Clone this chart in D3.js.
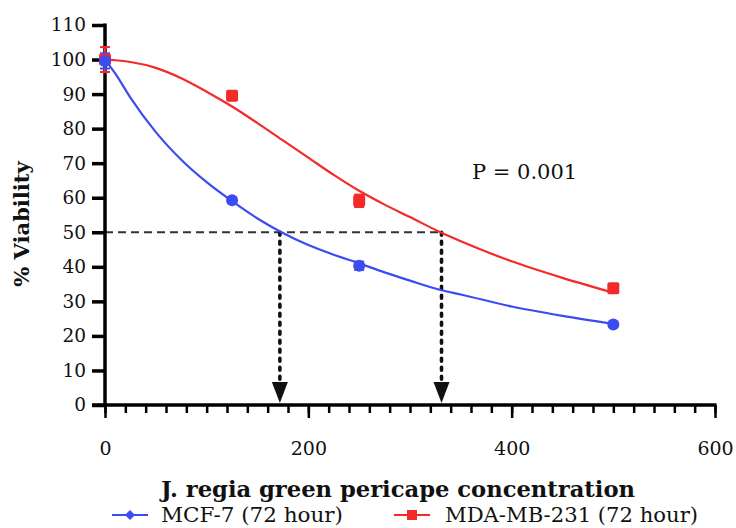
<!DOCTYPE html>
<html><head><meta charset="utf-8">
<script src="https://cdn.jsdelivr.net/npm/d3@7"></script>
<style>body{margin:0;background:#fff}svg{display:block}</style>
</head><body>
<script>
// ---- data ----
const concentrations = [0, 125, 250, 500];
const mcf7Values = [99.6, 59.3, 40.3, 23.3];
const mcf7Errors = [2.2, 0.8, 1.2, 0.6];
const mdaValues = [100, 89.5, 59.1, 33.8];
const mdaErrors = [3.6, 1.0, 1.8, 0.8];
// fitted curves
const fitX = [0, 10, 25, 50, 75, 100, 125, 150, 175, 200, 225, 250, 275, 300, 330, 350, 400, 450, 500];
const mcf7Fit = [100, 96, 89, 79, 71, 64.5, 59, 54, 49.8, 46.3, 43.5, 41, 38.4, 36, 33.3, 32, 28.5, 25.8, 23.5];
const mdaFit = [100, 99.8, 99.3, 97.6, 94.6, 90.7, 86.4, 81.6, 76.6, 71.6, 66.6, 62, 58, 54.4, 50, 47.4, 41.6, 36.8, 32.5];
const ic50 = [172, 331];
const xTicks = [0, 200, 400, 600];
const yTicks = [0, 10, 20, 30, 40, 50, 60, 70, 80, 90, 100, 110];
const seriesNames = ["MCF-7 (72 hour)", "MDA-MB-231 (72 hour)"];
const colors = ["#3b4cf0", "#f42a2a"];

const W = 736, H = 528;
const svg = d3.select("body").append("svg").attr("width", W).attr("height", H)
  .style("font-family", "'DejaVu Serif', serif");

const x = d3.scaleLinear().domain([0, 600]).range([105, 715]);
const y = d3.scaleLinear().domain([0, 110]).range([405, 25]);

// dashed 50% line
svg.append("line").attr("x1", x(0)).attr("x2", x(ic50[1])).attr("y1", y(50)).attr("y2", y(50))
  .attr("stroke", "#333").attr("stroke-width", 2.2).attr("stroke-dasharray", "8,5");

// vertical dotted arrows
ic50.forEach(v => {
  svg.append("line").attr("x1", x(v)).attr("x2", x(v)).attr("y1", y(50)).attr("y2", 382)
    .attr("stroke", "#111").attr("stroke-width", 3.6).attr("stroke-linecap", "round")
    .attr("stroke-dasharray", "3,6");
  svg.append("path").attr("d", `M${x(v)-8},382 L${x(v)+8},382 L${x(v)},403 Z`).attr("fill", "#111");
});

// axes
const gx = svg.append("g").attr("transform", `translate(0,${y(0)})`);
gx.call(d3.axisBottom(x).tickValues(d3.range(0, 601, 20)).tickSize(8).tickFormat(""));
gx.selectAll(".tick line").attr("stroke-width", 2.5);
const gx2 = svg.append("g").attr("transform", `translate(0,${y(0)})`);
gx2.call(d3.axisBottom(x).tickValues(xTicks).tickSize(13).tickPadding(24).tickFormat(d3.format("d")));
gx2.selectAll(".tick line").attr("stroke-width", 2.5);
gx2.selectAll("text").attr("font-size", 19).attr("font-family", "'DejaVu Serif', serif").attr("fill", "#111");
svg.selectAll(".domain").remove();
svg.append("line").attr("x1", 92).attr("x2", x(600)+1.5).attr("y1", y(0)).attr("y2", y(0))
  .attr("stroke", "#000").attr("stroke-width", 3.5);

const gy = svg.append("g").attr("transform", `translate(${x(0)},0)`);
gy.call(d3.axisLeft(y).tickValues(yTicks).tickSize(13).tickPadding(6).tickFormat(d3.format("d")));
gy.select(".domain").remove();
gy.selectAll(".tick line").attr("stroke-width", 3.5);
gy.selectAll("text").attr("font-size", 18.5).attr("font-family", "'DejaVu Serif', serif").attr("fill", "#111");
svg.append("line").attr("x1", x(0)).attr("x2", x(0)).attr("y1", y(110)-1.5).attr("y2", y(0)+1.5)
  .attr("stroke", "#000").attr("stroke-width", 3.5);

// curves
const line = d3.line().x(d => x(d[0])).y(d => y(d[1])).curve(d3.curveMonotoneX);
[mcf7Fit, mdaFit].forEach((fit, i) => {
  svg.append("path").attr("d", line(fitX.map((v, j) => [v, fit[j]])))
    .attr("fill", "none").attr("stroke", colors[i]).attr("stroke-width", 2.2);
});

// error bars & markers
function errBars(vals, errs, col) {
  concentrations.forEach((c, i) => {
    const g = svg.append("g").attr("stroke", col).attr("stroke-width", 2);
    g.append("line").attr("x1", x(c)).attr("x2", x(c)).attr("y1", y(vals[i]-errs[i])).attr("y2", y(vals[i]+errs[i]));
    [-1, 1].forEach(s => g.append("line").attr("x1", x(c)-5).attr("x2", x(c)+5)
      .attr("y1", y(vals[i]+s*errs[i])).attr("y2", y(vals[i]+s*errs[i])));
  });
}
errBars(mdaValues, mdaErrors, colors[1]);
errBars(mcf7Values, mcf7Errors, colors[0]);
svg.selectAll(null).data(concentrations).enter().append("rect")
  .attr("x", (d) => x(d)-6).attr("y", (d, i) => y(mdaValues[i])-6).attr("width", 12).attr("height", 12)
  .attr("rx", 2).attr("fill", colors[1]);
svg.selectAll(null).data(concentrations).enter().append("circle")
  .attr("cx", d => x(d)).attr("cy", (d, i) => y(mcf7Values[i])).attr("r", 6).attr("fill", colors[0]);

// P text
svg.append("text").attr("x", 472).attr("y", 179).attr("font-size", 21).attr("fill", "#111").text("P = 0.001");

// axis titles
svg.append("text").attr("x", 161).attr("y", 497)
  .attr("font-size", 22).attr("font-weight", "bold").attr("fill", "#111")
  .attr("textLength", 474).attr("lengthAdjust", "spacingAndGlyphs")
  .text("J. regia green pericape concentration");
svg.append("text").attr("transform", "translate(29,224) rotate(-90)").attr("text-anchor", "middle")
  .attr("font-size", 21).attr("font-weight", "bold").attr("fill", "#111").text("% Viability");

// legend
const leg = [{x0: 112, tx: 161, w: 182}, {x0: 394, tx: 445, w: 253}];
leg.forEach((l, i) => {
  svg.append("line").attr("x1", l.x0).attr("x2", l.x0 + 36).attr("y1", 515).attr("y2", 515)
    .attr("stroke", colors[i]).attr("stroke-width", 2);
  if (i === 0) svg.append("path").attr("d", `M${l.x0+18},${510} L${l.x0+23},515 L${l.x0+18},520 L${l.x0+13},515 Z`).attr("fill", colors[i]);
  else svg.append("rect").attr("x", l.x0+13).attr("y", 510).attr("width", 10).attr("height", 10).attr("fill", colors[i]);
  svg.append("text").attr("x", l.tx).attr("y", 522).attr("font-size", 21).attr("fill", "#111")
    .attr("textLength", l.w).attr("lengthAdjust", "spacingAndGlyphs").text(seriesNames[i]);
});
</script>
</body></html>
